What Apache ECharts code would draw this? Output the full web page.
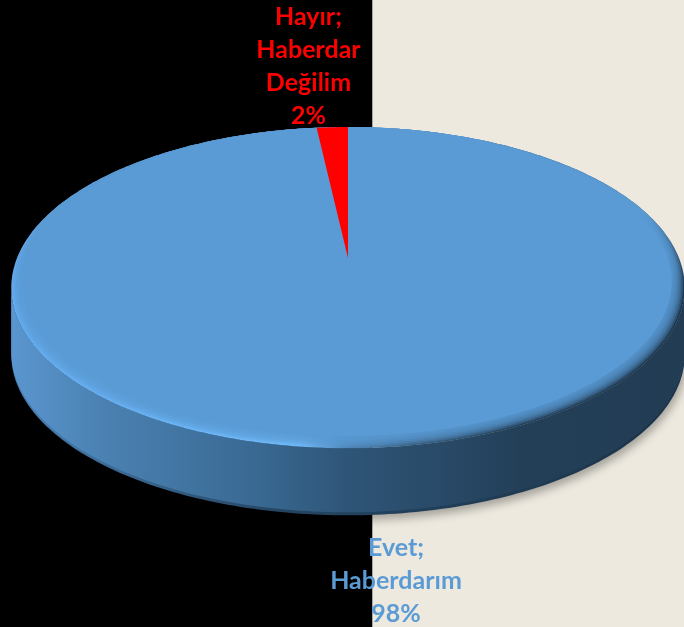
<!DOCTYPE html>
<html>
<head>
<meta charset="utf-8">
<title>Pie</title>
<script src="https://cdn.jsdelivr.net/npm/echarts@6/dist/echarts.min.js"></script>
<style>
  html, body { margin: 0; padding: 0; }
  #chart {
    width: 684px;
    height: 627px;
    background: linear-gradient(90deg, #000 0, #000 372px, #a9a69c 372px, #a9a69c 373px, #ede9df 373px);
  }
</style>
</head>
<body>
<div id="chart"></div>
<script>
var categories = ["Evet;\nHaberdarım", "Hayır;\nHaberdar\nDeğilim"];
var values = [98.2, 1.8];
var colors = ["#5b9bd5", "#ff0000"];

var total = values.reduce(function (a, b) { return a + b; }, 0);

// disc in perspective, the pie centre sits above the middle of the ellipse
var cx = 348, cy = 258;
var persp = 0.152, scaleX = 320, scaleY = 150.9;
var topY = cy - scaleY / (1 + persp);
var rimGrow = 1.04, depth = 67;

function project(angle, grow) {
  var u = Math.sin(angle), v = Math.cos(angle);
  var d = 1 + persp * v;
  var x = cx + (scaleX * u) / d;
  var y = cy - (scaleY * v) / d;
  return [cx + (x - cx) * grow, topY + (y - topY) * grow];
}

function ring(grow) {
  var pts = [];
  for (var i = 0; i < 360; i++) {
    pts.push(project((i / 180) * Math.PI, grow));
  }
  return pts;
}

function sidePoints(drop) {
  // lower half of the rim, then the same curve pushed down by drop
  var outer = ring(rimGrow);
  var left = outer.reduce(function (a, b) { return b[0] < a[0] ? b : a; });
  var right = outer.reduce(function (a, b) { return b[0] > a[0] ? b : a; });
  var midY = (left[1] + right[1]) / 2;
  var front = outer.filter(function (p) { return p[1] >= midY - 1; });
  var back = front.map(function (p) { return [p[0], p[1] + drop]; }).reverse();
  return front.concat(back);
}

function discParts() {
  var parts = [];
  // dark lip under the wall, also throws the shadow on the light side
  parts.push({
    type: "polygon",
    shape: { points: sidePoints(depth) },
    style: {
      fill: new echarts.graphic.LinearGradient(0, 0, 1, 0, [
        { offset: 0, color: "#4a80b4" },
        { offset: 0.4, color: "#244562" },
        { offset: 1, color: "#1c3347" },
      ]),
      shadowBlur: 8,
      shadowOffsetX: 2,
      shadowOffsetY: 5,
      shadowColor: "rgba(0, 0, 0, 0.3)",
    },
  });
  parts.push({
    type: "polygon",
    shape: { points: sidePoints(depth - 3) },
    style: {
      fill: new echarts.graphic.LinearGradient(0, 0, 1, 0, [
        { offset: 0, color: "#5a96cf" },
        { offset: 0.13, color: "#4b82b3" },
        { offset: 0.354, color: "#3a6a94" },
        { offset: 0.5, color: "#2e5577" },
        { offset: 0.634, color: "#294a68" },
        { offset: 0.76, color: "#233f58" },
        { offset: 1, color: "#223c54" },
      ]),
    },
  });
  parts.push({
    type: "polygon",
    shape: { points: ring(rimGrow) },
    style: {
      fill: new echarts.graphic.LinearGradient(0, 0, 1, 0, [
        { offset: 0, color: "#64abee" },
        { offset: 0.43, color: "#70bafa" },
        { offset: 0.5, color: "#4f86b8" },
        { offset: 0.6, color: "#3a6285" },
        { offset: 0.75, color: "#25425c" },
        { offset: 1, color: "#1f3850" },
      ]),
    },
  });
  // the bevel only shows on the lower part of the disc
  parts.push({
    type: "polygon",
    shape: { points: ring(rimGrow) },
    style: {
      fill: new echarts.graphic.LinearGradient(0, 0, 0, 1, [
        { offset: 0, color: "rgba(91, 155, 213, 1)" },
        { offset: 0.27, color: "rgba(91, 155, 213, 1)" },
        { offset: 0.49, color: "rgba(91, 155, 213, 0)" },
        { offset: 1, color: "rgba(91, 155, 213, 0)" },
      ]),
    },
  });
  // soft inner edge of the bevel
  var steps = 8;
  for (var s = 0; s < steps; s++) {
    parts.push({
      type: "polygon",
      shape: { points: ring(rimGrow - ((rimGrow - 1) * (s + 1)) / steps) },
      style: { fill: colors[0], opacity: 0.28 },
    });
  }
  return parts;
}

function sliceLabel(dataIndex) {
  var pct = Math.round((values[dataIndex] / total) * 100);
  var isBig = dataIndex === 0;
  return {
    type: "text",
    z2: 100,
    style: {
      text: categories[dataIndex] + "\n" + pct + "%",
      x: isBig ? 396 : 308.5,
      y: isBig ? 531 : 0,
      align: "center",
      verticalAlign: "top",
      fontFamily: "Lato",
      fontWeight: "bold",
      fontSize: 25,
      lineHeight: 33,
      fill: colors[dataIndex],
    },
  };
}

function renderSlice(params, api) {
  var i = params.dataIndex;
  var before = 0;
  for (var k = 0; k < i; k++) before += values[k];
  var start = (before / total) * 2 * Math.PI;
  var end = ((before + api.value(0)) / total) * 2 * Math.PI;
  var pts = [[cx, cy]];
  var n = Math.max(2, Math.ceil(((end - start) * 180) / Math.PI));
  for (var j = 0; j <= n; j++) {
    pts.push(project(start + ((end - start) * j) / n, 1));
  }
  var children = i === 0 ? discParts() : [];
  children.push({
    type: "polygon",
    z2: 50,
    shape: { points: pts },
    style: { fill: colors[i] },
  });
  children.push(sliceLabel(i));
  return { type: "group", children: children };
}

var myChart = echarts.init(document.getElementById("chart"), null, {
  width: 684,
  height: 627,
});
myChart.setOption({
  animation: false,
  series: [
    {
      type: "custom",
      coordinateSystem: "none",
      renderItem: renderSlice,
      data: values.map(function (v, i) {
        return { name: categories[i], value: [v] };
      }),
    },
  ],
});
</script>
</body>
</html>
